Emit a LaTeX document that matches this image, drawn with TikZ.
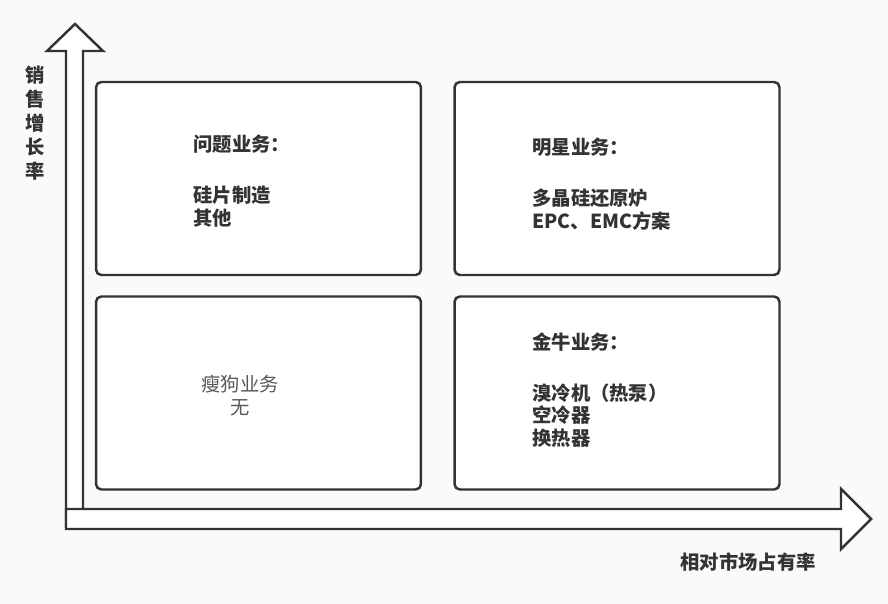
\documentclass[tikz,border=0pt]{standalone}
\usepackage{fontspec}
\usepackage{xcolor}
\usepackage{tikz}
\usetikzlibrary{positioning}
\newfontfamily\cjk{Noto Sans CJK SC}
\definecolor{edge}{HTML}{333333}
\definecolor{bg}{HTML}{FAFAFA}
\tikzset{quad/.style={draw=edge,line width=1.4pt,rounded corners=3pt,fill=white,minimum width=6.5cm,minimum height=3.86cm,inner sep=0pt},
  axisarrow/.style={draw=edge,line width=1.4pt,fill=white,line join=miter},
  lbl/.style={font=\cjk\bfseries\fontsize{11}{13}\selectfont,text=edge,align=left,inner sep=0pt},
  dim/.style={font=\cjk\fontsize{11}{13}\selectfont,text=black!65,align=center,inner sep=0pt}}

\begin{document}
\begin{tikzpicture}[x=0.02cm,y=-0.02cm]
\fill[bg] (0,0) rectangle (888,604);
\useasboundingbox (0,0) rectangle (888,604);
% axes
\draw[axisarrow] (66,527)--(66,51)--(47,51)--(75,24)--(103,51)--(83,51)--(83,527)--cycle;
\draw[axisarrow] (66,509)--(841,509)--(841,489)--(871,519)--(841,549)--(841,529)--(66,529)--cycle;
\node[lbl,align=center,font=\cjk\bfseries\fontsize{11}{13.6}\selectfont] (ylab) at (35,123) {销\\售\\增\\长\\率};
\node[lbl] (xlab) at (748,562) {相对市场占有率};
% quadrants
\node[quad] (q1) at (258.5,178.5) {};
\node[quad] (q2) at (617,178.5) {};
\node[quad] (q3) at (258.5,393) {};
\node[quad] (q4) at (617,393) {};
\node[lbl,anchor=north west] (t1) at (193,135) {问题业务：\\[16pt]硅片制造\\其他};
\node[lbl,anchor=north west] (t2) at (532,138) {明星业务：\\[16pt]多晶硅还原炉\\EPC、EMC方案};
\node[lbl,anchor=north west] (t4) at (532,332) {金牛业务：\\[16pt]溴冷机（热泵）\\空冷器\\换热器};
\node[dim] (t3) at (240,396) {瘦狗业务\\无};
\end{tikzpicture}
\end{document}
